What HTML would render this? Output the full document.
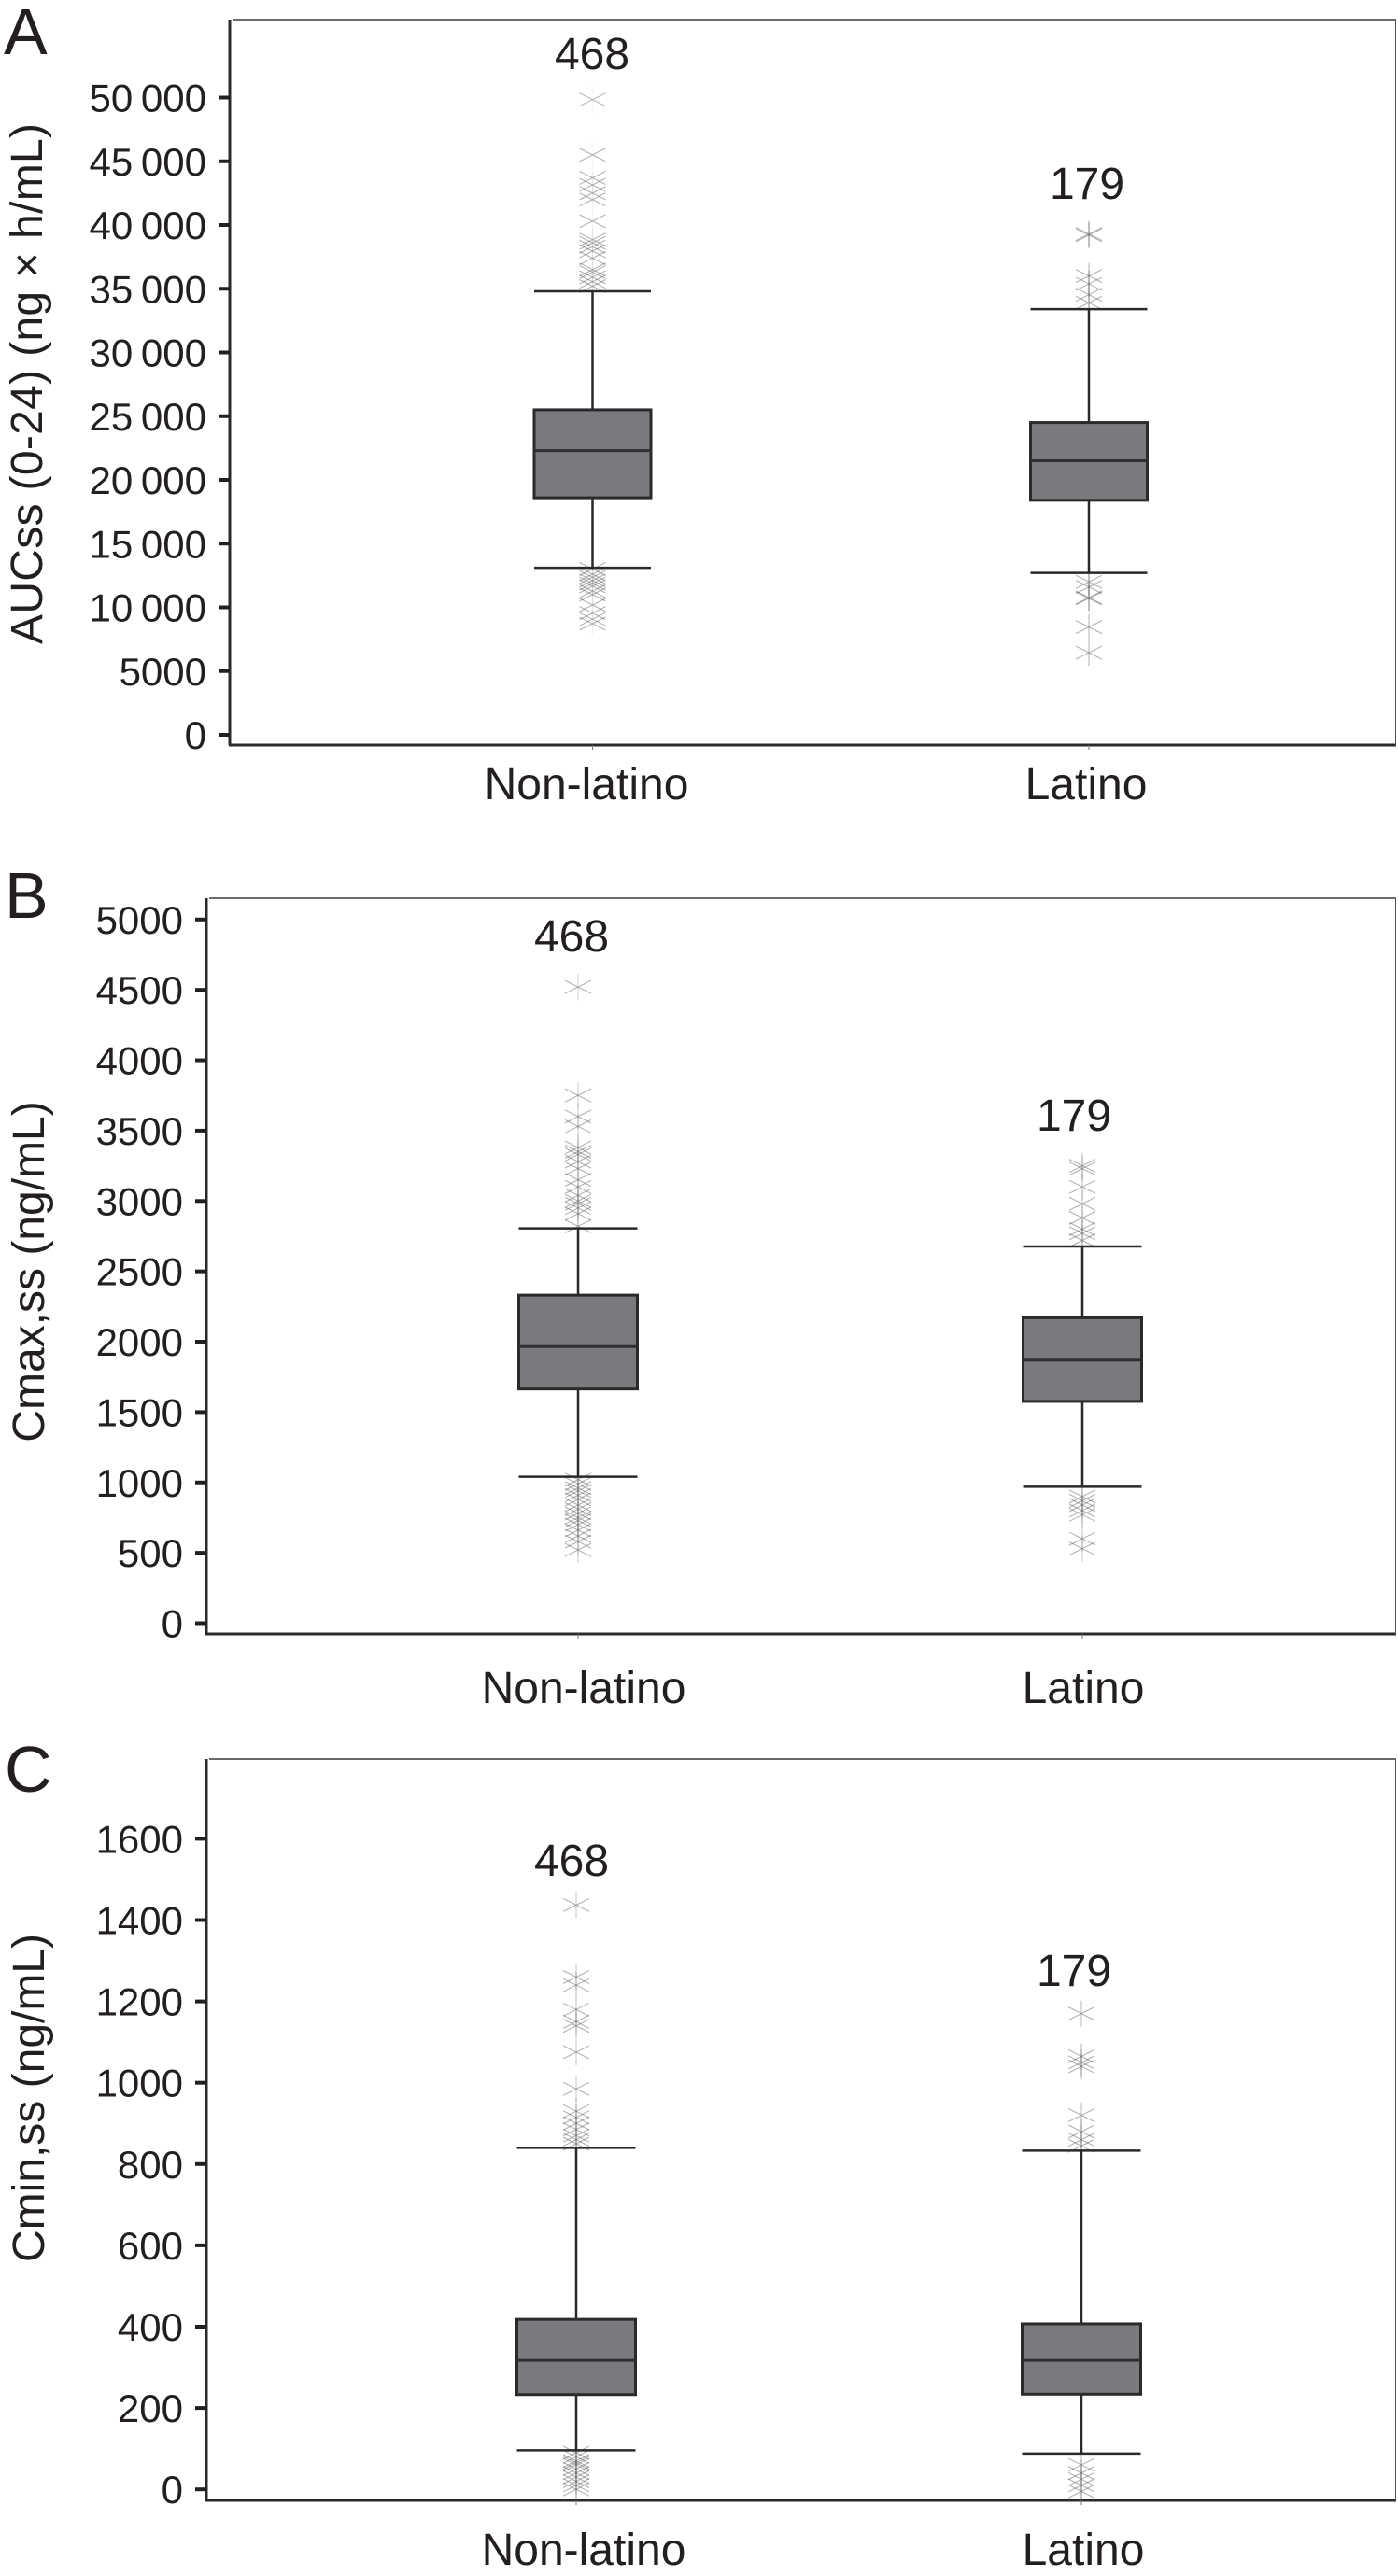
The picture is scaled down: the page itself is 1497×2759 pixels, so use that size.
<!DOCTYPE html>
<html lang="en">
<head>
<meta charset="utf-8">
<title>AUCss, Cmax,ss and Cmin,ss by ethnicity</title>
<style>
html,body{margin:0;padding:0;background:#fff;}
svg{display:block;}
text{font-family:"Liberation Sans",sans-serif;fill:#231f20;}
.title{font-size:48px;}
.letter{font-size:70px;}
</style>
</head>
<body>
<svg id="figure" xmlns="http://www.w3.org/2000/svg" width="1497" height="2759" viewBox="0 0 1497 2759">
  <text class="letter" x="4" y="58">A</text>
  <text class="letter" x="5" y="983">B</text>
  <text class="letter" x="5" y="1919">C</text>
  <text class="title" text-anchor="middle" transform="translate(45 411) rotate(-90)" textLength="558">AUCss (0-24) (ng × h/mL)</text>
  <text class="title" text-anchor="middle" transform="translate(47 1362) rotate(-90)">Cmax,ss (ng/mL)</text>
  <text class="title" text-anchor="middle" transform="translate(47 2247) rotate(-90)">Cmin,ss (ng/mL)</text>
</svg>
<script>
const categories = ['Non-latino', 'Latino'];
const sampleSizes = [468, 179];

const aTicks = [0, 5000, 10000, 15000, 20000, 25000, 30000, 35000, 40000, 45000, 50000];
const aTickLabels = ['0', '5000', '10 000', '15 000', '20 000', '25 000', '30 000', '35 000', '40 000', '45 000', '50 000'];
const aWhiskerLow = [13100, 12700];
const aQ1 = [18600, 18400];
const aMedian = [22300, 21500];
const aQ3 = [25500, 24500];
const aWhiskerHigh = [34800, 33400];
const aOutliersNonLatino = [49840, 45500, 43700, 43150, 42500, 42000, 40300, 38850, 38600, 38300, 37950, 37400, 36500, 36300, 35900, 35550, 35200, 13000, 12600, 12360, 12100, 11870, 11650, 11270, 11000, 10180, 9550, 9070, 8720];
const aOutliersLatino = [39300, 39200, 36000, 35380, 34530, 33900, 12000, 11600, 10770, 10700, 8450, 6440];

const bTicks = [0, 500, 1000, 1500, 2000, 2500, 3000, 3500, 4000, 4500, 5000];
const bTickLabels = ['0', '500', '1000', '1500', '2000', '2500', '3000', '3500', '4000', '4500', '5000'];
const bWhiskerLow = [1041, 969];
const bQ1 = [1664, 1576];
const bMedian = [1965, 1869];
const bQ3 = [2331, 2170];
const bWhiskerHigh = [2805, 2677];
const bOutliersNonLatino = [4520, 3750, 3600, 3530, 3380, 3350, 3330, 3280, 3230, 3150, 3100, 3040, 3000, 2980, 2950, 2910, 2820, 1020, 990, 960, 940, 910, 880, 840, 810, 780, 750, 730, 700, 660, 620, 580, 520];
const bOutliersLatino = [3250, 3230, 3100, 2980, 2880, 2800, 2770, 2720, 900, 870, 840, 800, 770, 600, 530];

const cTicks = [0, 200, 400, 600, 800, 1000, 1200, 1400, 1600];
const cTickLabels = ['0', '200', '400', '600', '800', '1000', '1200', '1400', '1600'];
const cWhiskerLow = [96, 88];
const cQ1 = [233, 234];
const cMedian = [317, 317];
const cQ3 = [418, 407];
const cWhiskerHigh = [840, 833];
const cOutliersNonLatino = [1437, 1260, 1240, 1180, 1150, 1140, 1075, 985, 930, 915, 900, 885, 870, 860, 850, 90, 80, 70, 65, 60, 50, 40, 30, 20, 10, 0];
const cOutliersLatino = [1170, 1065, 1050, 1040, 920, 880, 860, 845, 60, 40, 25, 10, -5];

const NS = 'http://www.w3.org/2000/svg';
const figure = document.getElementById('figure');

function shape(parent, tag, attrs) {
  const el = document.createElementNS(NS, tag);
  for (const k in attrs) el.setAttribute(k, attrs[k]);
  parent.appendChild(el);
  return el;
}

function drawPanel(p) {
  const yOf = v => p.zeroY + v * (p.topTickY - p.zeroY) / p.refValue;
  const xOf = i => p.firstX + i * p.stepX;

  const g = shape(figure, 'g', {});
  
  

  const left = shape(g, 'line', {x1: p.left, x2: p.left, y1: p.top, y2: p.bottom, stroke: '#2a2a2a', 'stroke-width': 3});
  
  
  const bottom = shape(g, 'line', {x1: p.left - 1, x2: 1495, y1: p.bottom, y2: p.bottom, stroke: '#2a2a2a', 'stroke-width': 3});
  
  
  const top = shape(g, 'line', {x1: p.left + 3, x2: 1495, y1: p.top, y2: p.top, stroke: '#3a3a3a', 'stroke-width': 1.5});
  
  
  const right = shape(g, 'line', {x1: 1494.5, x2: 1494.5, y1: p.top, y2: p.bottom, stroke: '#555', 'stroke-width': 1});
  
  

  p.ticks.forEach((v, i) => {
    const tick = shape(g, 'line', {x1: p.left - 12, x2: p.left, y1: yOf(v), y2: yOf(v), stroke: '#231f20', 'stroke-width': 4});
    
    
    const label = shape(g, 'text', {x: p.left - 25, y: yOf(v) + 15, 'text-anchor': 'end', 'font-size': 42, 'word-spacing': '-3px'});
    
    
    label.textContent = p.tickLabels[i];
  });

  categories.forEach((name, i) => {
    const cx = xOf(i);

    const outliers = shape(g, 'g', {});
    
    
    p.outliers[i].forEach(v => {
      const y = yOf(v);
      const mark = shape(outliers, 'path', {
        d: 'M' + (cx - 14) + ' ' + (y - 7) + 'L' + (cx + 14) + ' ' + (y + 7) +
           'M' + (cx - 14) + ' ' + (y + 7) + 'L' + (cx + 14) + ' ' + (y - 7),
        fill: 'none', stroke: '#4a4a4a', 'stroke-width': 1.1, opacity: 0.42
      });
      
      
      const spoke = shape(outliers, 'path', {
        d: 'M' + cx + ' ' + (y - 14) + 'V' + (y + 14),
        fill: 'none', stroke: '#4a4a4a', 'stroke-width': 1.1, opacity: p.spokeOpacity[i]
      });
      
      
    });

    const stem = shape(g, 'line', {x1: cx, x2: cx, y1: yOf(p.whiskerHigh[i]), y2: yOf(p.whiskerLow[i]), stroke: '#2a2a2a', 'stroke-width': 2.5});
    
    
    [p.whiskerHigh[i], p.whiskerLow[i]].forEach(v => {
      const cap = shape(g, 'line', {x1: cx - p.halfBox, x2: cx + p.halfBox, y1: yOf(v), y2: yOf(v), stroke: '#2a2a2a', 'stroke-width': 2.5});
      
      
    });
    const box = shape(g, 'rect', {x: cx - p.halfBox, width: p.halfBox * 2, y: yOf(p.q3[i]), height: yOf(p.q1[i]) - yOf(p.q3[i]), fill: '#797a7e', stroke: '#2a2a2a', 'stroke-width': 3});
    
    
    const med = shape(g, 'line', {x1: cx - p.halfBox, x2: cx + p.halfBox, y1: yOf(p.median[i]), y2: yOf(p.median[i]), stroke: '#2f2f30', 'stroke-width': 3});
    
    

    const xTick = shape(g, 'line', {x1: cx, x2: cx, y1: p.bottom, y2: p.bottom + 5, stroke: '#777', 'stroke-width': 1});
    
    

    const catLabel = shape(g, 'text', {x: p.catX[i], y: p.catY, 'text-anchor': 'middle', 'font-size': 48});
    
    
    catLabel.textContent = name;

    const count = shape(g, 'text', {x: p.countX[i], y: p.countY[i], 'text-anchor': 'middle', 'font-size': 48});
    
    
    count.textContent = sampleSizes[i];
  });
}

drawPanel({
  id: 'a', left: 246, top: 21, bottom: 798, zeroY: 787, topTickY: 104.5, refValue: 50000,
  firstX: 634.5, stepX: 531.5, halfBox: 62.5, catX: [628, 1163], catY: 856, countX: [634, 1164], countY: [74, 213],
  spokeOpacity: [0.05, 0.4],
  ticks: aTicks, tickLabels: aTickLabels, whiskerLow: aWhiskerLow, q1: aQ1, median: aMedian, q3: aQ3, whiskerHigh: aWhiskerHigh,
  outliers: [aOutliersNonLatino, aOutliersLatino]
});
drawPanel({
  id: 'b', left: 221, top: 962, bottom: 1750, zeroY: 1738.5, topTickY: 984.8, refValue: 5000,
  firstX: 619, stepX: 540, halfBox: 63.5, catX: [625, 1160], catY: 1824, countX: [612, 1150], countY: [1019, 1211],
  spokeOpacity: [0.25, 0.3],
  ticks: bTicks, tickLabels: bTickLabels, whiskerLow: bWhiskerLow, q1: bQ1, median: bMedian, q3: bQ3, whiskerHigh: bWhiskerHigh,
  outliers: [bOutliersNonLatino, bOutliersLatino]
});
drawPanel({
  id: 'c', left: 221, top: 1884, bottom: 2678, zeroY: 2666.2, topTickY: 1969.4, refValue: 1600,
  firstX: 617, stepX: 541, halfBox: 63.5, catX: [625, 1160], catY: 2747, countX: [612, 1150], countY: [2009, 2127],
  spokeOpacity: [0.3, 0.35],
  ticks: cTicks, tickLabels: cTickLabels, whiskerLow: cWhiskerLow, q1: cQ1, median: cMedian, q3: cQ3, whiskerHigh: cWhiskerHigh,
  outliers: [cOutliersNonLatino, cOutliersLatino]
});
</script>
</body>
</html>
